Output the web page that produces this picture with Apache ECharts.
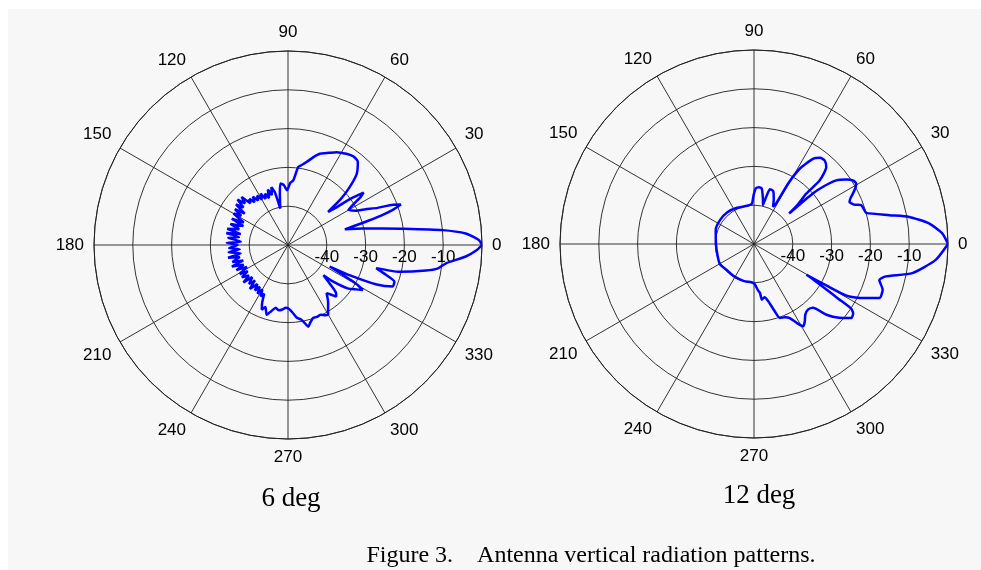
<!DOCTYPE html>
<html>
<head>
<meta charset="utf-8">
<title>Antenna vertical radiation patterns</title>
<script src="https://cdn.jsdelivr.net/npm/echarts@6.0.0/dist/echarts.min.js"></script>
<style>
html, body { margin: 0; padding: 0; background: #fff; }
#wrap { position: relative; width: 981px; height: 570px; overflow: hidden; }
#bg { position: absolute; left: 8px; top: 9px; right: 0; bottom: 0; background: #f7f7f7; }
#main { position: absolute; left: 0; top: 0; width: 981px; height: 570px; }
</style>
</head>
<body>
<div id="wrap">
  <div id="bg"></div>
  <div id="main"></div>
</div>
<script>
// 6 deg pattern: angle (deg) / level (dB), rows of 10 kept aligned
var angle6 = [
  0, 1.5, 3.7, 5.5, 8.2, 10, 12.4, 15.4, 16.5, 17.5,
  18.5, 19.7, 21, 22.5, 24.8, 27, 30, 32, 33.5, 34.7,
  36.5, 38.2, 39.6, 41, 43.2, 46, 50, 53.5, 57.4, 62.4,
  66, 70.8, 74, 77.4, 80, 82.5, 85.3, 88, 91, 94,
  97, 99, 102, 104, 106, 108, 110, 112, 114, 116,
  118, 120, 122, 124, 126, 128, 130, 132, 134, 136,
  138, 140, 142, 144, 146, 148, 150, 153, 155, 157,
  160, 162, 165, 167, 169, 171, 173, 176, 178, 180,
  183, 185, 187, 190, 192, 194, 197, 199, 201, 204,
  206, 208, 211, 213, 215, 218, 220, 222, 225, 227,
  229, 232, 234, 236, 238, 240, 242, 244, 246, 248,
  250, 253, 256, 259, 262, 265, 268, 271, 274, 277,
  280, 282, 284, 286, 289, 292, 295, 298, 300, 302,
  304, 306, 308.7, 311, 313, 315, 317, 319.6, 321, 324,
  327, 329, 330.5, 332.7, 334, 336, 338.4, 341, 343, 345.3,
  346.5, 349.5, 351, 353.4, 356.3, 358.5, 360];
var level6 = [
  0, -0.8, -4.1, -10, -20.5, -25.5, -30.3, -34.8, -30, -25,
  -21.5, -19.1, -21, -25, -28, -30.5, -32, -30, -27.5, -26.3,
  -30, -35, -36.6, -32, -28.2, -24.5, -22, -21.6, -22.1, -23,
  -24, -25.1, -26.5, -28.1, -29, -29.7, -33.3, -34, -35.9, -34.5,
  -34, -36.6, -40.4, -36, -34.5, -36.5, -34.8, -37, -35.5, -36.8,
  -35, -36.5, -35, -36.2, -34.6, -36, -34.5, -35.5, -32.8, -34.6,
  -32.5, -35, -33, -36.2, -33.5, -35.8, -33.8, -37.2, -34, -37.5,
  -34.2, -36.8, -33.8, -37.5, -33.8, -37.2, -34.5, -37.8, -34.2, -37,
  -34.8, -37.5, -34.6, -37.6, -34.2, -37.2, -35, -37.8, -34.5, -37.5,
  -35.2, -38, -35.5, -37.6, -35.5, -37.2, -35, -37.6, -35.8, -37.5,
  -35, -37.2, -35.5, -37, -35.2, -36.8, -35, -36, -33.6, -32,
  -33, -31.2, -32.5, -33.5, -33, -33.3, -33.8, -33.5, -32.5, -31.1,
  -30.5, -29.5, -28.3, -29.2, -30.1, -30, -30.2, -29.5, -29.3, -30.5,
  -31.5, -32.5, -34.1, -33, -31.8, -32.5, -35, -38, -35, -31,
  -29, -27.5, -30, -37.9, -32, -25, -21, -21, -23.5, -26.5,
  -20.4, -13.8, -11, -9, -4.1, -1.3, 0];

// 12 deg pattern
var angle12 = [
  0, 3.2, 6.7, 9.9, 12, 15.5, 17.5, 19.9, 21.5, 23.8,
  25.5, 27, 29, 30.6, 32.8, 35, 37.7, 39.5, 40.7, 41,
  42, 43.9, 44.1, 46.8, 49.8, 52.5, 55.3, 58.7, 60.5, 61.5,
  63, 66, 70, 73.8, 75.5, 77, 79, 82, 85, 88,
  90.5, 93, 100, 115, 130, 145, 160, 180, 195, 210,
  225, 240, 255, 266, 270, 272, 275, 277, 278, 281,
  284, 287, 289.3, 293, 295.8, 298.5, 300.8, 303, 306, 309.4,
  312.7, 315.7, 319, 322.7, 325, 326.4, 327, 328, 329, 329.6,
  330.2, 330.8, 332.5, 334.3, 336.7, 340.4, 344, 346.2, 349.6, 355,
  360];
var level12 = [
  0, -1.4, -4.6, -9.4, -14.3, -20, -20.3, -20.6, -22.3, -23.1,
  -22.4, -21.4, -20.1, -19.4, -19.7, -21, -23.2, -26.5, -30, -38,
  -35, -31.3, -26.4, -22.8, -21.8, -22, -23.3, -27.3, -32, -38.4,
  -39.2, -37.5, -35.5, -35.3, -37.5, -39.7, -38, -35.6, -35.3, -35.6,
  -37.4, -39.6, -40, -39.7, -39.3, -39.3, -39.5, -40.2, -40.2, -39.8,
  -40.3, -40.2, -40.1, -40.1, -39.8, -39.3, -38, -37.3, -35.5, -36,
  -34.8, -32, -29.8, -29.5, -28.8, -26.8, -25.3, -26, -27.5, -28.1,
  -27.6, -23.9, -21, -18.5, -18.8, -20, -24, -28.5, -32, -34.3,
  -28.4, -22.7, -20, -17.9, -14.8, -14.8, -16.4, -15, -8.5, -3,
  0];

var angleTicks = [0, 30, 60, 90, 120, 150, 180, 210, 240, 270, 300, 330];
var dbTicks = [-40, -30, -20, -10];
var subTitles = ['6 deg', '12 deg'];
var caption = 'Figure 3.    Antenna vertical radiation patterns.';

var gridColor = '#1e1e1e';

function pairs(angles, levels) {
  var out = [];
  for (var i = 0; i < angles.length; i++) {
    out.push([levels[i], angles[i]]);
  }
  return out;
}

function angleAxisOpt(idx) {
  return {
    polarIndex: idx,
    type: 'value',
    min: 0,
    max: 360,
    interval: 30,
    startAngle: 0,
    clockwise: false,
    axisLine: { lineStyle: { color: gridColor, width: 0.9 } },
    axisTick: { show: false },
    axisLabel: {
      margin: 10,
      color: '#000',
      fontSize: 17,
      fontFamily: 'Liberation Sans, Arial, sans-serif',
      formatter: function (v) { return angleTicks.indexOf(v) >= 0 ? String(v) : ''; }
    },
    splitLine: { lineStyle: { color: gridColor, width: 0.9 } }
  };
}

function radiusAxisOpt(idx) {
  return {
    polarIndex: idx,
    type: 'value',
    min: -50,
    max: 0,
    interval: 10,
    axisLine: { show: false },
    axisTick: { show: false },
    axisLabel: {
      color: '#000',
      fontSize: 17,
      margin: -12,
      verticalAlign: 'middle',
      fontFamily: 'Liberation Sans, Arial, sans-serif',
      formatter: function (v) { return dbTicks.indexOf(v) >= 0 ? String(v) : ''; }
    },
    splitLine: { lineStyle: { color: gridColor, width: 0.9 } }
  };
}

var serifSub = { fontFamily: 'Liberation Serif, Times New Roman, serif', fontSize: 27, fontWeight: 'normal', color: '#000' };
var serifCap = { fontFamily: 'Liberation Serif, Times New Roman, serif', fontSize: 24, fontWeight: 'normal', color: '#000' };

var chart = echarts.init(document.getElementById('main'), null, { renderer: 'canvas' });
chart.setOption({
  animation: false,
  backgroundColor: 'transparent',
  title: [
    { text: subTitles[0], left: 291, top: 485, textAlign: 'center', padding: 0, textStyle: serifSub },
    { text: subTitles[1], left: 759, top: 482, textAlign: 'center', padding: 0, textStyle: serifSub },
    { text: caption, left: 591, top: 544, textAlign: 'center', padding: 0, textStyle: serifCap }
  ],
  polar: [
    { center: [288, 245], radius: 194 },
    { center: [754, 244], radius: 194 }
  ],
  angleAxis: [angleAxisOpt(0), angleAxisOpt(1)],
  radiusAxis: [radiusAxisOpt(0), radiusAxisOpt(1)],
  series: [
    {
      name: subTitles[0],
      type: 'line',
      coordinateSystem: 'polar',
      polarIndex: 0,
      showSymbol: false,
      smooth: 0.2,
      lineStyle: { color: '#0000ff', width: 2.5 },
      data: pairs(angle6, level6)
    },
    {
      name: subTitles[1],
      type: 'line',
      coordinateSystem: 'polar',
      polarIndex: 1,
      showSymbol: false,
      smooth: 0.2,
      lineStyle: { color: '#0000ff', width: 2.5 },
      data: pairs(angle12, level12)
    }
  ]
});
</script>
</body>
</html>
